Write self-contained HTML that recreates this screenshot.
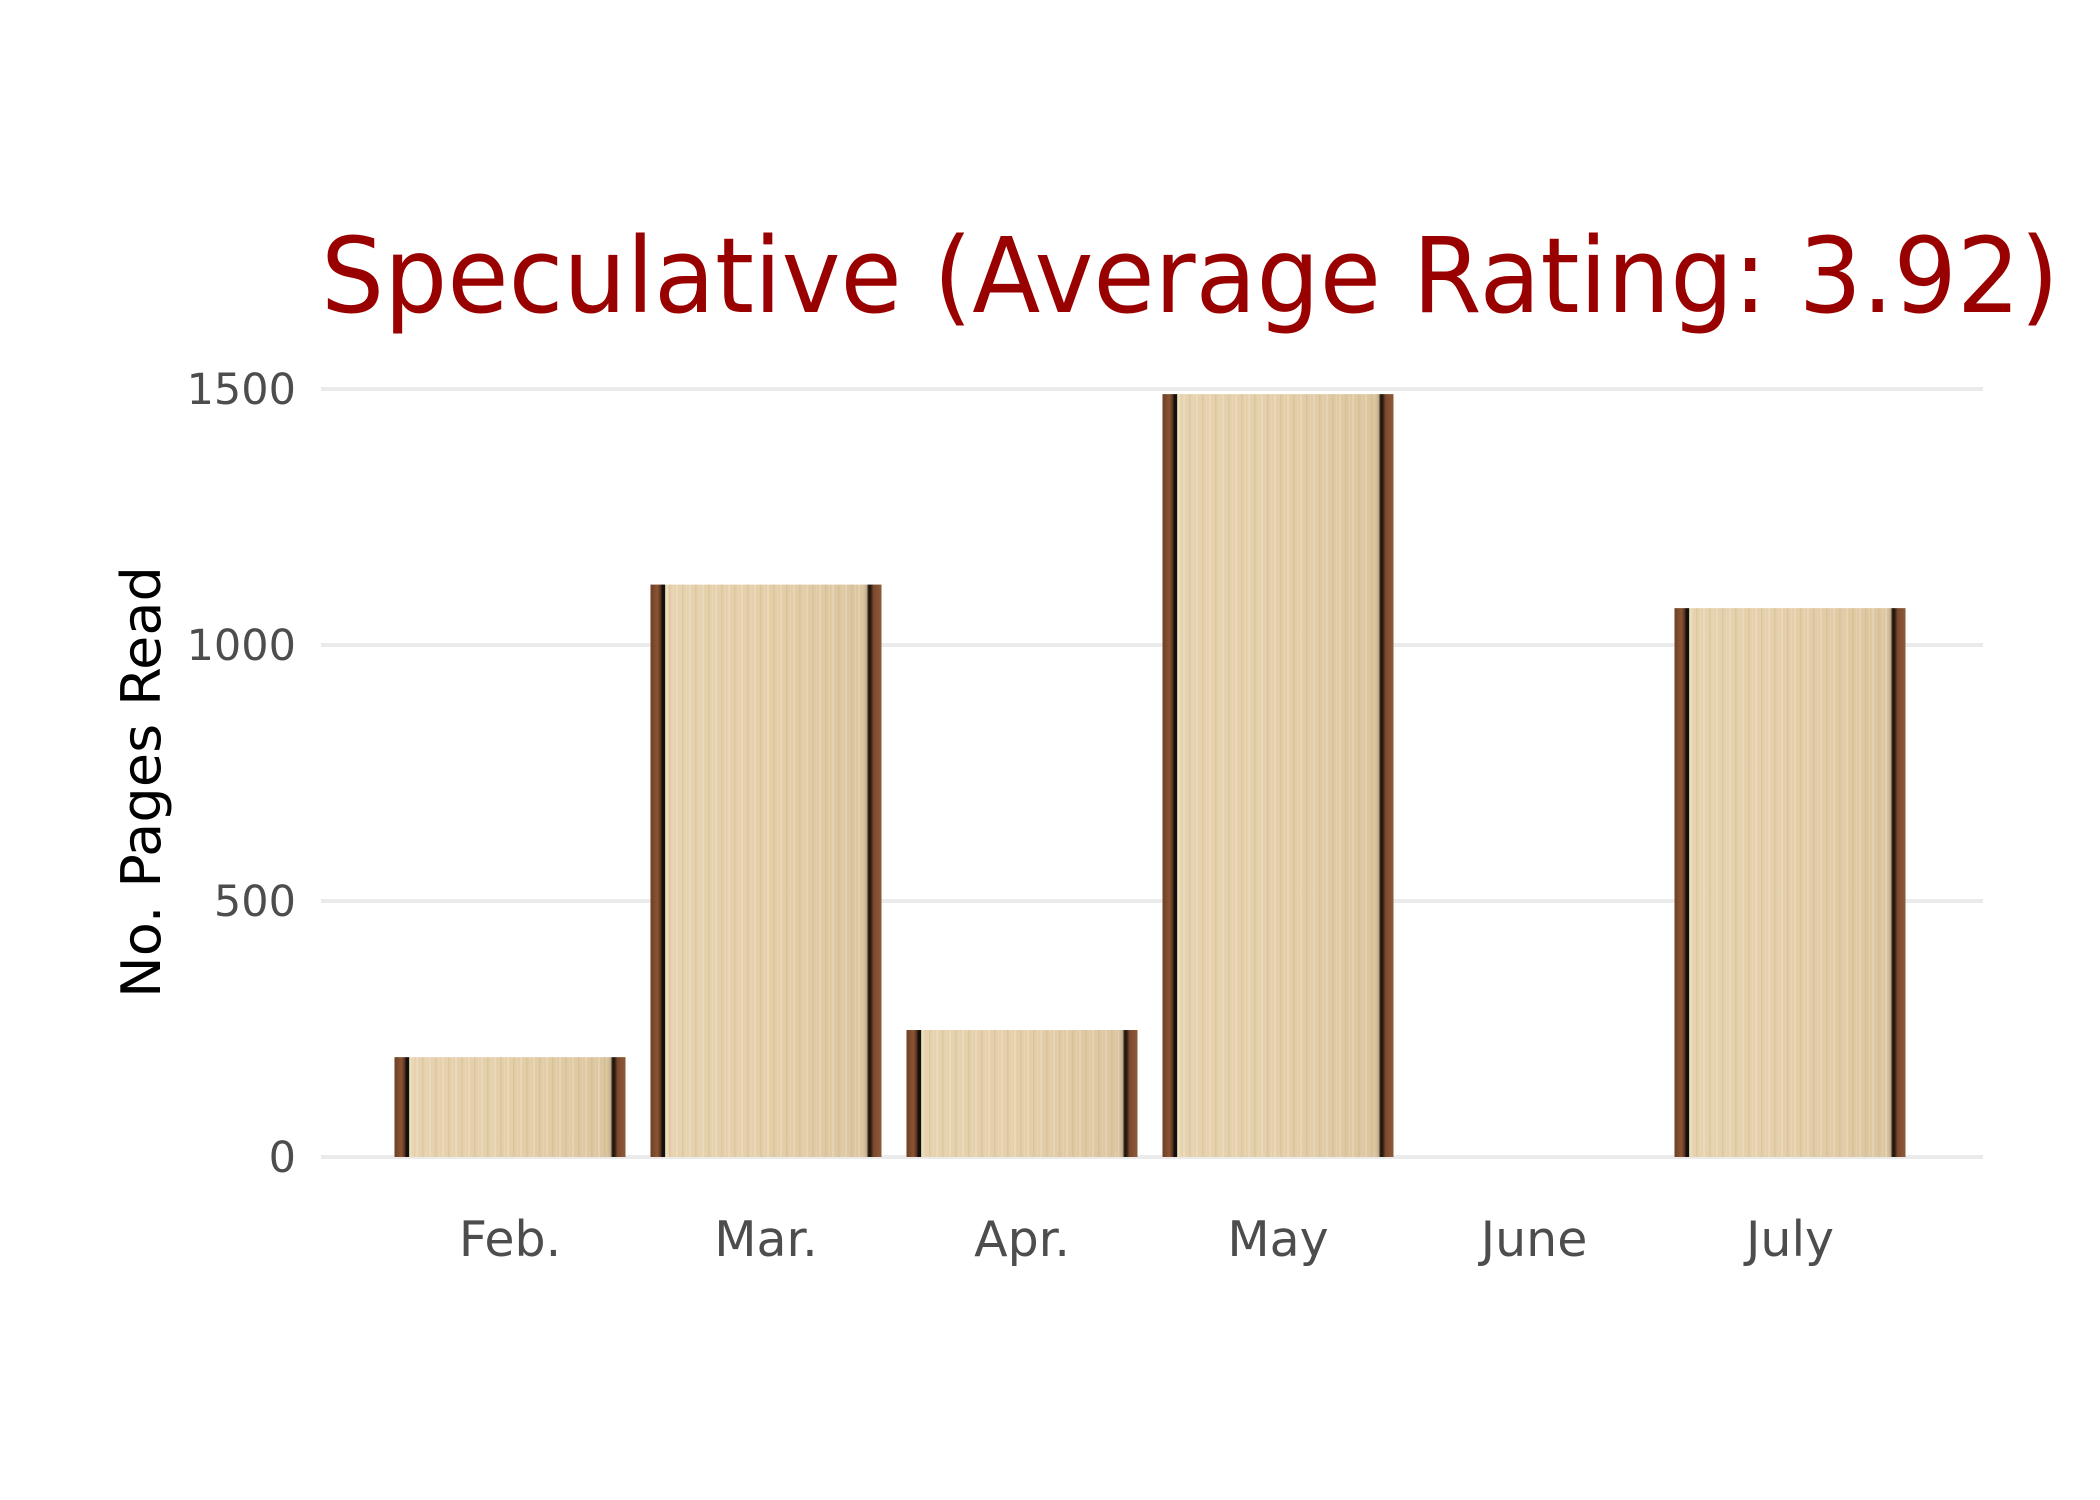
<!DOCTYPE html>
<html><head><meta charset="utf-8"><style>
html,body{margin:0;padding:0;background:#fff;}
svg{display:block;}
</style></head><body>
<svg id="chart" width="2100" height="1500" viewBox="0 0 2100 1500" xmlns="http://www.w3.org/2000/svg">
<defs>
<linearGradient id="book" x1="0" y1="0" x2="1" y2="0">
<stop offset="0" stop-color="#6e3e24"/>
<stop offset="0.03" stop-color="#8a5535"/>
<stop offset="0.045" stop-color="#5a3018"/>
<stop offset="0.05" stop-color="#111"/>
<stop offset="0.062" stop-color="#111"/>
<stop offset="0.065" stop-color="#f6e6c2"/>
<stop offset="0.08" stop-color="#e6d2ae"/>
<stop offset="0.5" stop-color="#e4cfa9"/>
<stop offset="0.92" stop-color="#dcc6a0"/>
<stop offset="0.935" stop-color="#c9b08a"/>
<stop offset="0.945" stop-color="#111"/>
<stop offset="0.955" stop-color="#3a2010"/>
<stop offset="0.965" stop-color="#7a4a2c"/>
<stop offset="1" stop-color="#8f5a3a"/>
</linearGradient>
<pattern id="stripes" width="13" height="10" patternUnits="userSpaceOnUse">
<rect x="0" y="0" width="2" height="10" fill="#fff" opacity="0.18"/>
<rect x="6" y="0" width="1.5" height="10" fill="#b08a5a" opacity="0.15"/>
<rect x="10" y="0" width="1" height="10" fill="#fff" opacity="0.12"/>
</pattern>
</defs>
<text x="321" y="312" font-family="DejaVu Sans, sans-serif" font-size="104" fill="#990000" textLength="1738" lengthAdjust="spacingAndGlyphs">Speculative (Average Rating: 3.92)</text>
<text transform="translate(160,782) rotate(-90)" text-anchor="middle" font-family="DejaVu Sans Condensed, DejaVu Sans, sans-serif" font-size="54" fill="#000" textLength="432" lengthAdjust="spacingAndGlyphs">No. Pages Read</text>
<g id="grid"></g>
<g id="bars"></g>
<g id="xlabels"></g>
</svg>
<script>
const categories = ["Feb.", "Mar.", "Apr.", "May", "June", "July"];
const pagesRead = [195, 1118, 248, 1490, 0, 1072];
const yTicks = [0, 500, 1000, 1500];
const yTickLabels = ["0", "500", "1000", "1500"];

const NS = "http://www.w3.org/2000/svg";
const plotLeft = 321, plotRight = 1983;
const y0 = 1157, yTop = 389, yMax = 1500;
const bandStart = 382, band = 256, barW = 231;
function yScale(v){ return y0 - (v / yMax) * (y0 - yTop); }
function xCenter(i){ return bandStart + band * i + band / 2; }

const grid = document.getElementById('grid');
yTicks.forEach((t, i) => {
  const l = document.createElementNS(NS, 'line');
  l.setAttribute('x1', plotLeft); l.setAttribute('x2', plotRight);
  l.setAttribute('y1', yScale(t)); l.setAttribute('y2', yScale(t));
  l.setAttribute('stroke', '#ebebeb'); l.setAttribute('stroke-width', '4');
  
  
  grid.appendChild(l);
  const tx = document.createElementNS(NS, 'text');
  tx.setAttribute('x', 296); tx.setAttribute('y', yScale(t) + 15);
  tx.setAttribute('text-anchor', 'end');
  tx.setAttribute('font-family', 'DejaVu Sans, sans-serif');
  tx.setAttribute('font-size', '43');
  tx.setAttribute('fill', '#4d4d4d');
  tx.textContent = yTickLabels[i];
  
  
  grid.appendChild(tx);
});

const bars = document.getElementById('bars');
const xl = document.getElementById('xlabels');
categories.forEach((c, i) => {
  const v = pagesRead[i];
  if (v > 0) {
    const g = document.createElementNS(NS, 'g');
    
    
    const x = xCenter(i) - barW / 2, y = yScale(v), h = y0 - y;
    const r = document.createElementNS(NS, 'rect');
    r.setAttribute('x', x); r.setAttribute('y', y);
    r.setAttribute('width', barW); r.setAttribute('height', h);
    r.setAttribute('fill', 'url(#book)');
    g.appendChild(r);
    const s = document.createElementNS(NS, 'rect');
    s.setAttribute('x', x + barW * 0.08); s.setAttribute('y', y);
    s.setAttribute('width', barW * 0.84); s.setAttribute('height', h);
    s.setAttribute('fill', 'url(#stripes)');
    g.appendChild(s);
    bars.appendChild(g);
  }
  const t = document.createElementNS(NS, 'text');
  t.setAttribute('x', xCenter(i)); t.setAttribute('y', 1256);
  t.setAttribute('text-anchor', 'middle');
  t.setAttribute('font-family', 'DejaVu Sans, sans-serif');
  t.setAttribute('font-size', '49');
  t.setAttribute('fill', '#4d4d4d');
  t.textContent = c;
  
  
  xl.appendChild(t);
});
</script>
</body></html>
